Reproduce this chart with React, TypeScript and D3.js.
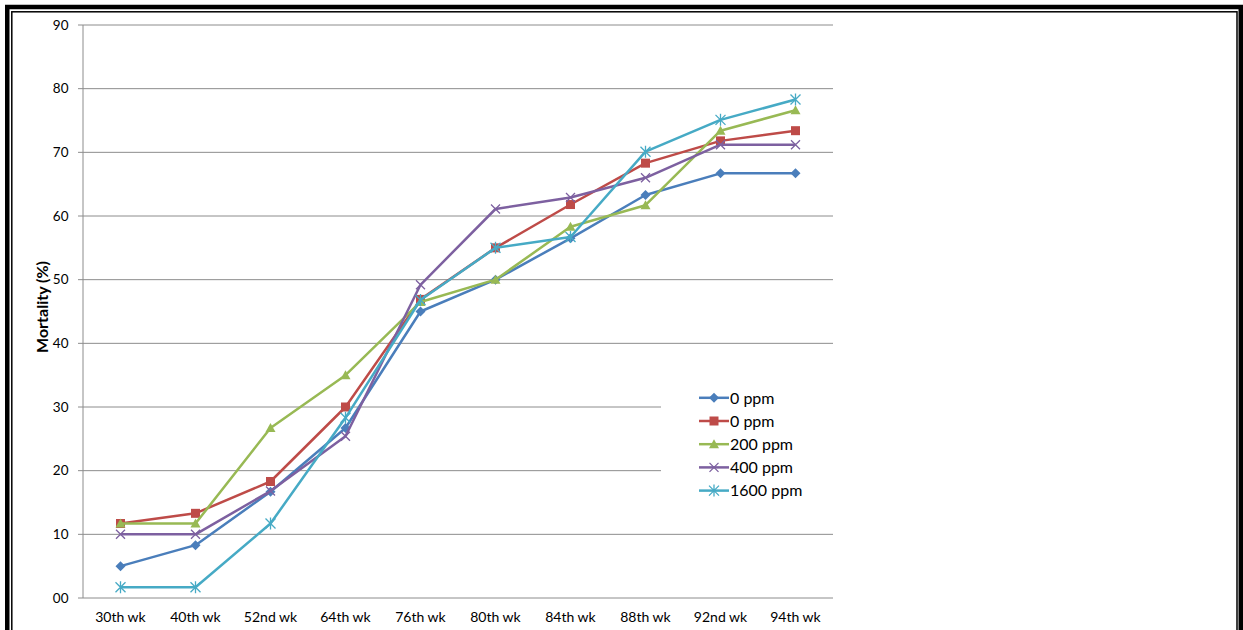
import React from "react";
import * as d3 from "d3";

const categories = ["30th wk", "40th wk", "52nd wk", "64th wk", "76th wk", "80th wk", "84th wk", "88th wk", "92nd wk", "94th wk"];
const seriesNames = ["0 ppm", "0 ppm", "200 ppm", "400 ppm", "1600 ppm"];
const s0ppmA = [5, 8.3, 16.7, 26.7, 45, 50, 56.5, 63.3, 66.7, 66.7];
const s0ppmB = [11.7, 13.3, 18.3, 30, 46.9, 55, 61.8, 68.3, 71.8, 73.4];
const s200ppm = [11.7, 11.7, 26.7, 35, 46.5, 50, 58.3, 61.7, 73.4, 76.6];
const s400ppm = [10, 10, 16.8, 25.4, 49.2, 61.1, 62.9, 66, 71.2, 71.2];
const s1600ppm = [1.7, 1.7, 11.7, 28.3, 46.8, 55, 56.7, 70.1, 75.1, 78.3];
const yTicks = [0, 10, 20, 30, 40, 50, 60, 70, 80, 90];
const yTickLabels = ["00", "10", "20", "30", "40", "50", "60", "70", "80", "90"];

const seriesValues = [s0ppmA, s0ppmB, s200ppm, s400ppm, s1600ppm];
const colors = ["#4A7EBB", "#BE4B48", "#98B954", "#7D60A0", "#46AAC5"];
const markers = ["diamond", "square", "triangle", "x", "star"];

const FONT = "Lato, 'Open Sans', 'Liberation Sans', sans-serif";

function Marker({ type, x, y, color }: { type: string; x: number; y: number; color: string }) {
  if (type === "diamond") {
    const s = 5;
    return <path d={`M${x},${y - s}L${x + s},${y}L${x},${y + s}L${x - s},${y}Z`} fill={color} />;
  }
  if (type === "square") {
    const s = 4.5;
    return <rect x={x - s} y={y - s} width={2 * s} height={2 * s} fill={color} />;
  }
  if (type === "triangle") {
    const s = 5;
    return <path d={`M${x},${y - s}L${x + s},${y + s * 0.8}L${x - s},${y + s * 0.8}Z`} fill={color} />;
  }
  if (type === "x") {
    const s = 4.5;
    return (
      <path d={`M${x - s},${y - s}L${x + s},${y + s}M${x - s},${y + s}L${x + s},${y - s}`} stroke={color} strokeWidth={1.3} fill="none" />
    );
  }
  const s = 5;
  return (
    <path
      d={`M${x - s},${y - s}L${x + s},${y + s}M${x - s},${y + s}L${x + s},${y - s}M${x},${y - s - 1}L${x},${y + s + 1}`}
      stroke={color}
      strokeWidth={1.3}
      fill="none"
    />
  );
}

export default function App() {
  const W = 1243;
  const H = 630;
  const left = 83;
  const right = 833;
  const top = 25;
  const bottom = 598;

  const x = d3.scaleBand<string>().domain(categories).range([left, right]).padding(0);
  const y = d3.scaleLinear().domain([0, 90]).range([bottom, top]);
  const cx = (c: string) => (x(c) ?? 0) + x.bandwidth() / 2;

  const line = d3
    .line<number>()
    .x((_, i) => cx(categories[i]))
    .y((d) => y(d));

  const legX = 699;
  const legY0 = 397.8;
  const legStep = 23.2;
  const legendBox = { x0: 661, x1: 834, y0: 380, y1: 506 };

  return (
    <svg width={W} height={H} style={{ position: "absolute", left: 0, top: 0, background: "#fff" }} fontFamily={FONT}>
      <rect x={0} y={0} width={W} height={H} fill="#fff" />
      {/* gridlines */}
      {yTicks.map((t) => (
        <line key={"g" + t} x1={left} x2={right} y1={y(t)} y2={y(t)} stroke="#8c8c8c" strokeWidth={1} />
      ))}
      {/* y axis */}
      <line x1={left} x2={left} y1={top} y2={bottom} stroke="#8c8c8c" strokeWidth={1} />
      {yTicks.map((t) => (
        <line key={"tk" + t} x1={left - 5} x2={left} y1={y(t)} y2={y(t)} stroke="#8c8c8c" strokeWidth={1} />
      ))}
      {yTicks.map((t, i) => (
        <text key={"yl" + t} x={68.5} y={y(t)} dy="0.35em" textAnchor="end" fontSize={13.5} fill="#000">
          {yTickLabels[i]}
        </text>
      ))}
      {categories.map((c) => (
        <text key={"xl" + c} x={cx(c)} y={621.5} textAnchor="middle" fontSize={14} fill="#000">
          {c}
        </text>
      ))}
      <text
        transform={`translate(48,307) rotate(-90)`}
        textAnchor="middle"
        fontSize={16}
        fontWeight="bold"
        fill="#000"
      >
        Mortality (%)
      </text>

      {/* series */}
      {seriesValues.map((vals, si) => (
        <g key={"s" + si}>
          <path d={line(vals) ?? ""} fill="none" stroke={colors[si]} strokeWidth={2.5} strokeLinejoin="round" />
          {vals.map((v, i) => (
            <Marker key={i} type={markers[si]} x={cx(categories[i])} y={y(v)} color={colors[si]} />
          ))}
        </g>
      ))}

      {/* legend */}
      <rect x={legendBox.x0} y={legendBox.y0} width={legendBox.x1 - legendBox.x0} height={legendBox.y1 - legendBox.y0} fill="#fff" />
      {seriesNames.map((n, i) => {
        const ly = legY0 + i * legStep;
        return (
          <g key={"lg" + i}>
            <line x1={legX} x2={legX + 30} y1={ly} y2={ly} stroke={colors[i]} strokeWidth={2.5} />
            <Marker type={markers[i]} x={legX + 15} y={ly} color={colors[i]} />
            <text x={legX + 31} y={ly} dy="0.36em" fontSize={16} fill="#000">
              {n}
            </text>
          </g>
        );
      })}

      {/* double border */}
      <rect x={7.25} y={7} width={1233.5} height={700} fill="none" stroke="#000" strokeWidth={4.5} />
      <rect x={11.8} y={11.8} width={1225.2} height={700} fill="none" stroke="#000" strokeWidth={1.5} />
    </svg>
  );
}
